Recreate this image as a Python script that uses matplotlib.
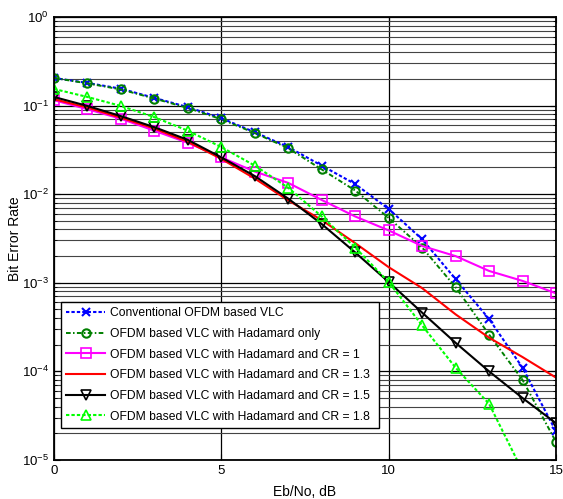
import numpy as np
import matplotlib
matplotlib.use("Agg")
import matplotlib.pyplot as plt
from matplotlib.ticker import LogLocator, LogFormatterSciNotation, NullFormatter

plt.rcParams['font.family'] = ['Liberation Sans', 'DejaVu Sans']
plt.rcParams['mathtext.fontset'] = 'custom'
plt.rcParams['mathtext.rm'] = 'Liberation Sans'
plt.rcParams['mathtext.it'] = 'Liberation Sans'
plt.rcParams['mathtext.bf'] = 'Liberation Sans'

ebno = list(range(16))
ebno_18 = list(range(15))

ber_conv = [0.205, 0.18, 0.155, 0.122, 0.096, 0.072, 0.050, 0.034, 0.021, 0.013,
            0.0068, 0.0031, 0.0011, 0.00039, 0.00011, 2.1e-5]
ber_had = [0.205, 0.178, 0.152, 0.120, 0.094, 0.070, 0.049, 0.033, 0.019, 0.011,
           0.0054, 0.0025, 0.00089, 0.00026, 8.0e-5, 1.6e-5]
ber_cr1 = [0.115, 0.091, 0.071, 0.052, 0.038, 0.026, 0.018, 0.0134, 0.0086, 0.0056,
           0.0039, 0.0026, 0.0020, 0.00136, 0.00105, 0.00076]
ber_cr13 = [0.118, 0.095, 0.073, 0.055, 0.039, 0.025, 0.015, 0.0085, 0.0051, 0.0028,
            0.0015, 0.00087, 0.00044, 0.00024, 0.000145, 8.5e-5]
ber_cr15 = [0.125, 0.099, 0.076, 0.057, 0.041, 0.026, 0.016, 0.0089, 0.0046, 0.0022,
            0.00102, 0.00046, 0.00021, 1.0e-4, 5.0e-5, 2.6e-5]
ber_cr18 = [0.154, 0.125, 0.099, 0.074, 0.052, 0.034, 0.021, 0.0118, 0.0056, 0.0025,
            0.00102, 0.00033, 1.1e-4, 4.3e-5, 7.5e-6]

labels = ['Conventional OFDM based VLC',
          'OFDM based VLC with Hadamard only',
          'OFDM based VLC with Hadamard and CR = 1',
          'OFDM based VLC with Hadamard and CR = 1.3',
          'OFDM based VLC with Hadamard and CR = 1.5',
          'OFDM based VLC with Hadamard and CR = 1.8']

fig = plt.figure(figsize=(5.63, 4.99), dpi=100)
ax = fig.add_axes([0.0959, 0.0782, 0.8917, 0.8878])

ms = 6
ax.semilogy(ebno, ber_conv, color='#0000FF', ls=(0, (1.6, 1.0)), lw=1.5, marker='x', ms=ms, mew=1.5, label=labels[0])
ax.semilogy(ebno, ber_had, color='#008000', ls=(0, (2.4, 1.2, 0.8, 1.2)), lw=1.4, marker='o', ms=ms, mfc='none', mew=1.5, label=labels[1])
ax.semilogy(ebno, ber_cr1, color='#FF00FF', ls='-', lw=1.5, marker='s', ms=ms + 1, mfc='none', mew=1.2, label=labels[2])
ax.semilogy(ebno, ber_cr13, color='#FF0000', ls='-', lw=1.5, label=labels[3])
ax.semilogy(ebno, ber_cr15, color='#000000', ls='-', lw=1.5, marker='v', ms=ms + 1, mfc='none', mew=1.2, label=labels[4])
ax.semilogy(ebno_18, ber_cr18, color='#00FF00', ls=(0, (1.6, 1.0)), lw=1.5, marker='^', ms=ms + 1, mfc='none', mew=1.2, label=labels[5])

ax.set_xlim(0, 15)
ax.set_ylim(1e-5, 1)
ax.set_xticks([0, 5, 10, 15])
ax.yaxis.set_major_locator(LogLocator(base=10, numticks=10))
ax.yaxis.set_minor_locator(LogLocator(base=10, subs=np.arange(2, 10), numticks=50))
ax.yaxis.set_major_formatter(LogFormatterSciNotation())
ax.yaxis.set_minor_formatter(NullFormatter())

ax.grid(True, which='major', color='black', lw=0.9, ls='-')
ax.grid(True, which='minor', axis='y', color='#444444', lw=0.8, ls='-')
ax.set_axisbelow(True)

ax.tick_params(which='both', direction='in', top=True, right=True, labelsize=9.5)
ax.tick_params(which='major', length=4)
ax.tick_params(which='minor', length=2)
for s in ax.spines.values():
    s.set_linewidth(1.3)

ax.set_xlabel('Eb/No, dB', fontsize=10, labelpad=6)
ax.set_ylabel('Bit Error Rate', fontsize=10, labelpad=0)

leg = ax.legend(loc='lower left', bbox_to_anchor=(0.014, 0.072, 0.633, 0.282), mode='expand',
                fontsize=8.7, frameon=True, fancybox=False, edgecolor='black', framealpha=1,
                borderaxespad=0, handlelength=3.2, labelspacing=0.72, borderpad=0.45, handletextpad=0.4)
leg.get_frame().set_linewidth(1.0)

fig.savefig('out.png', dpi=100)
